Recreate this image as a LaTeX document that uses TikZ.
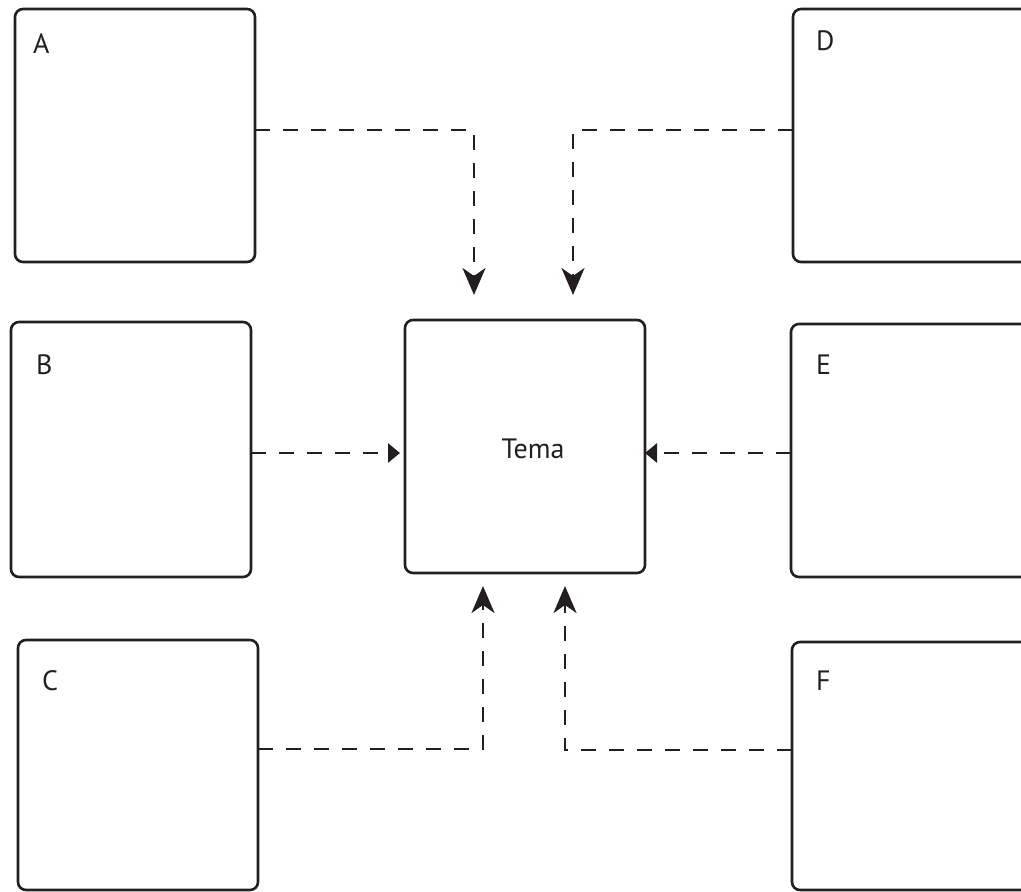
\documentclass[tikz,border=0pt]{standalone}
\usepackage{fontspec}
\setmainfont{PT Sans}
\usetikzlibrary{arrows.meta,calc}
\definecolor{ink}{HTML}{231F20}
\begin{document}
\begin{tikzpicture}[x=1pt,y=-1pt,
 box/.style={draw=ink, line width=2.6pt, rounded corners=8pt, minimum width=240pt, minimum height=253pt, anchor=north west, inner sep=0pt, outer sep=0pt},
 lab/.style={anchor=base west, inner sep=0pt, font=\fontsize{28}{30}\selectfont, text=ink},
 conn/.style={draw=ink, line width=2.9pt, dash pattern=on 15pt off 13pt},
 big/.style={-{Stealth[length=27pt,width=23pt,inset=8pt]}, shorten >=25pt},
 bigup/.style={-{Stealth[length=27pt,width=23pt,inset=8pt]}, shorten >=13pt},
 small/.style={-{Triangle[length=12pt,width=19pt]}}]
\useasboundingbox (0,0) rectangle (1021,892);
\clip (0,0) rectangle (1021,892);
% boxes
\node[box] (A) at (15,9) {};
\node[box, minimum height=255pt] (B) at (11,322) {};
\node[box, minimum width=240pt, minimum height=250pt] (C) at (18,640) {};
\node[box, minimum width=260pt] (D) at (793,9) {};
\node[box, minimum width=260pt] (E) at (791,324) {};
\node[box, minimum width=260pt, minimum height=248pt] (F) at (792,642) {};
\node[box, minimum height=253pt] (Tema) at (405,320) {};
% labels
\node[lab] (lA) at (33,53) {A};
\node[lab] (lB) at (36,374) {B};
\node[lab] (lC) at (42,690) {C};
\node[lab] (lD) at (816,50) {D};
\node[lab] (lE) at (816,374) {E};
\node[lab] (lF) at (816,690) {F};
\node[lab, anchor=base] (lT) at (533,458) {Tema};
% connectors
\draw[conn, big] (A.east |- 0,130) -| ($(Tema.north west)+(69,0)$);
\draw[conn, big] (D.west |- 0,130) -| ($(Tema.north west)+(168,0)$);
\draw[conn, small, shorten >=5pt] (B.east |- 0,453) -- (Tema.west |- 0,453);
\draw[conn, small] (E.west |- 0,453) -- (Tema.east |- 0,453);
\draw[conn, bigup] (C.east |- 0,749) -| ($(Tema.south west)+(78,0)$);
\draw[conn, bigup] (F.west |- 0,750) -| ($(Tema.south west)+(160,0)$);
\end{tikzpicture}
\end{document}
